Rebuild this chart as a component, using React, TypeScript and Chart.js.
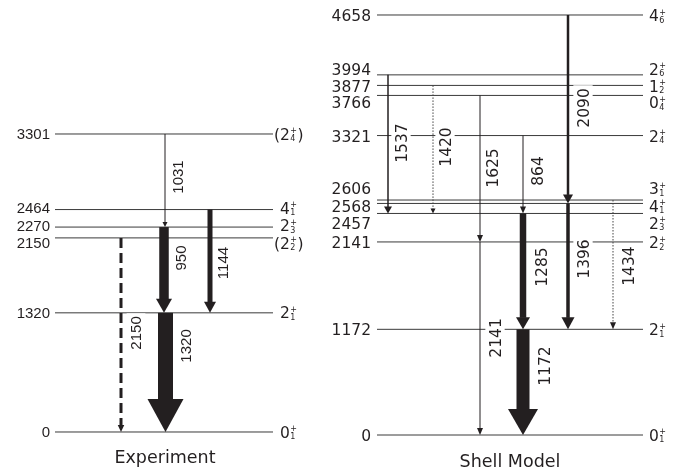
import { useEffect, useRef } from "react";
import { Chart, registerables } from "chart.js";

Chart.register(...registerables);

// ---------------- Data ----------------
// Experiment
const expLevels = [0, 1320, 2150, 2270, 2464, 3301];
const expSpinJ = [0, 2, 2, 2, 4, 2];
const expSpinN = [1, 1, 2, 3, 1, 4];
const expTentative = [false, false, true, false, false, true];

const expGammaFrom = [3301, 2270, 2464, 2150, 1320];
const expGammaTo = [2270, 1320, 1320, 0, 0];
const expGammaLabel = ["1031", "950", "1144", "2150", "1320"];

// Shell model
const smLevels = [0, 1172, 2141, 2457, 2568, 2606, 3321, 3766, 3877, 3994, 4658];
const smSpinJ = [0, 2, 2, 2, 4, 3, 2, 0, 1, 2, 4];
const smSpinN = [1, 1, 2, 3, 1, 1, 4, 4, 2, 6, 6];
const smTentative = smLevels.map(() => false);

const smGammaFrom = [3994, 3877, 3766, 2141, 3321, 2457, 1172, 4658, 2568, 2606];
const smGammaTo = [2457, 2457, 2141, 0, 2457, 1172, 0, 2568, 1172, 1172];
const smGammaLabel = ["1537", "1420", "1625", "2141", "864", "1285", "1172", "2090", "1396", "1434"];

const panelTitles = ["Experiment", "Shell Model"];

// ---------------- Layout (diagram units) ----------------
const expLayout = {
  axis: "yExp",
  x0: 55,
  x1: 273,
  numX: 50,
  spinX: 280,
  numFont: '"Liberation Sans", Arial, sans-serif',
  numSize: 15,
  gammaFont: '"Liberation Sans", Arial, sans-serif',
  gammaSize: 15,
  labelE: [0, 1320, 2094, 2287, 2481, 3301],
  titleX: 165,
  titleE: -288,
  gx: [165, 164, 210, 121, 165.5],
  shaft: [1, 9.5, 5, 3, 15],
  headW: [5, 16, 12, 6.5, 36],
  headL: [5, 14, 11, 7, 33],
  dash: [null, null, null, [10, 5], null] as (number[] | null)[],
  glX: [178, 181, 223, 136, 186],
  glE: [2825, 1927, 1872, 1097, 953],
};

const smLayout = {
  axis: "ySM",
  x0: 377,
  x1: 643,
  numX: 371,
  spinX: 649,
  numFont: '"DejaVu Sans", sans-serif',
  numSize: 15.5,
  gammaFont: '"DejaVu Sans", sans-serif',
  gammaSize: 15.5,
  labelE: [0, 1170, 2135, 2351, 2540, 2734, 3316, 3688, 3871, 4059, 4652],
  titleX: 510,
  titleE: -299,
  gx: [388, 433, 480, 480, 523, 523, 523, 568, 568, 613],
  shaft: [1.5, 1, 1, 1, 1, 6.5, 13, 2.5, 3.5, 1],
  headW: [8, 5, 6, 6, 6, 14, 30, 10, 13, 6],
  headL: [7, 5, 7, 7, 7, 12, 26, 9, 12, 7],
  dash: [null, [1.5, 1.5], null, null, null, null, null, null, null, [1.5, 1.5]] as (number[] | null)[],
  glX: [401, 445, 492, 495, 537, 541, 544, 583, 583, 628],
  glE: [3238, 3194, 2961, 1076, 2928, 1863, 765, 3627, 1952, 1874],
};

const panels = [
  {
    levels: expLevels, J: expSpinJ, N: expSpinN, tent: expTentative,
    from: expGammaFrom, to: expGammaTo, glabel: expGammaLabel, title: panelTitles[0], L: expLayout,
  },
  {
    levels: smLevels, J: smSpinJ, N: smSpinN, tent: smTentative,
    from: smGammaFrom, to: smGammaTo, glabel: smGammaLabel, title: panelTitles[1], L: smLayout,
  },
];

const INK = "#231f20";
const LEVEL_COLOR = "#3a3a3a";

function drawSpin(ctx: CanvasRenderingContext2D, x: number, yc: number, J: number, n: number, tent: boolean) {
  const big = 15.5;
  const small = 8;
  const capH = big * 0.729;
  const base = yc + capH / 2;
  ctx.textAlign = "left";
  ctx.textBaseline = "alphabetic";
  ctx.fillStyle = INK;
  ctx.font = `${big}px "DejaVu Sans", sans-serif`;
  let cx = x;
  if (tent) {
    const pw = ctx.measureText("(").width;
    ctx.fillText("(", cx - pw, base);
  }
  const js = String(J);
  ctx.fillText(js, cx, base);
  cx += ctx.measureText(js).width + 0.5;
  ctx.font = `${small}px "DejaVu Sans", sans-serif`;
  ctx.fillText("+", cx, base - 6.3);
  ctx.fillText(String(n), cx, base + 1.5);
  const w = Math.max(ctx.measureText("+").width, ctx.measureText(String(n)).width);
  cx += w + 0.5;
  if (tent) {
    ctx.font = `${big}px "DejaVu Sans", sans-serif`;
    ctx.fillText(")", cx, base);
  }
}

const schemePlugin = {
  id: "levelScheme",
  afterDatasetsDraw(chart: any) {
    const ctx: CanvasRenderingContext2D = chart.ctx;
    const xs = chart.scales.x;
    ctx.save();
    panels.forEach((p) => {
      const L = p.L;
      const ys = chart.scales[L.axis];
      const Y = (e: number) => ys.getPixelForValue(e);
      const X = (v: number) => xs.getPixelForValue(v);

      // level energy labels + spins
      p.levels.forEach((e, i) => {
        const yc = Y(L.labelE[i]);
        ctx.font = `${L.numSize}px ${L.numFont}`;
        ctx.fillStyle = INK;
        ctx.textAlign = "right";
        ctx.textBaseline = "alphabetic";
        const capH = L.numSize * (L.numFont.includes("DejaVu") ? 0.729 : 0.716);
        ctx.fillText(String(e), X(L.numX), yc + capH / 2);
        drawSpin(ctx, X(L.spinX), yc, p.J[i], p.N[i], p.tent[i]);
      });

      // gamma labels with white boxes
      p.glabel.forEach((t, i) => {
        const cx = X(L.glX[i]);
        const cy = Y(L.glE[i]);
        ctx.font = `${L.gammaSize}px ${L.gammaFont}`;
        const w = ctx.measureText(t).width;
        const capH = L.gammaSize * (L.gammaFont.includes("DejaVu") ? 0.729 : 0.716);
        ctx.fillStyle = "#ffffff";
        ctx.fillRect(cx - capH / 2 - 4, cy - w / 2 - 3, capH + 8, w + 6);
        ctx.save();
        ctx.translate(cx, cy);
        ctx.rotate(-Math.PI / 2);
        ctx.fillStyle = INK;
        ctx.textAlign = "center";
        ctx.textBaseline = "alphabetic";
        ctx.fillText(t, 0, capH / 2);
        ctx.restore();
      });

      // arrows
      p.from.forEach((ef, i) => {
        const x = X(L.gx[i]);
        const y1 = Y(ef);
        const y2 = Y(p.to[i]);
        const hw = L.headW[i];
        const hl = L.headL[i];
        const sw = L.shaft[i];
        const yb = y2 - hl;
        const dash = L.dash[i];
        ctx.fillStyle = INK;
        ctx.strokeStyle = dash && sw < 2 ? "#444" : INK;
        if (dash || sw < 3) {
          ctx.lineWidth = sw;
          ctx.setLineDash(dash || []);
          ctx.beginPath();
          ctx.moveTo(x, y1);
          ctx.lineTo(x, yb + 0.5);
          ctx.stroke();
          ctx.setLineDash([]);
        } else {
          ctx.fillRect(x - sw / 2, y1, sw, yb - y1 + 0.5);
        }
        ctx.beginPath();
        ctx.moveTo(x - hw / 2, yb);
        ctx.lineTo(x + hw / 2, yb);
        ctx.lineTo(x, y2);
        ctx.closePath();
        ctx.fill();
      });

      // panel title
      ctx.font = `17.5px "DejaVu Sans", sans-serif`;
      ctx.fillStyle = INK;
      ctx.textAlign = "center";
      ctx.textBaseline = "middle";
      ctx.fillText(p.title, X(L.titleX), Y(L.titleE));
    });
    ctx.restore();
  },
};

export default function App() {
  const ref = useRef<HTMLCanvasElement | null>(null);
  useEffect(() => {
    if (!ref.current) return;
    const datasets: any[] = [];
    panels.forEach((p) => {
      p.levels.forEach((e) => {
        datasets.push({
          data: [
            { x: p.L.x0, y: e },
            { x: p.L.x1, y: e },
          ],
          yAxisID: p.L.axis,
          showLine: true,
          borderColor: LEVEL_COLOR,
          borderWidth: 1,
          pointRadius: 0,
          fill: false,
        });
      });
    });
    const chart = new Chart(ref.current, {
      type: "scatter",
      data: { datasets },
      options: {
        animation: false,
        responsive: false,
        events: [],
        layout: { padding: 0 },
        plugins: { legend: { display: false }, tooltip: { enabled: false }, title: { display: false } },
        scales: {
          x: { type: "linear", min: 0, max: 685, display: false },
          yExp: { type: "linear", position: "left", min: -443.1, max: 4785.3, display: false },
          ySM: { type: "linear", position: "right", min: -410.3, max: 4824.3, display: false },
        },
      },
      plugins: [schemePlugin],
    });
    return () => chart.destroy();
  }, []);
  return (
    <div style={{ position: "absolute", left: 0, top: 0, width: 685, height: 472, background: "#fff" }}>
      <canvas ref={ref} width={685} height={472} />
    </div>
  );
}
